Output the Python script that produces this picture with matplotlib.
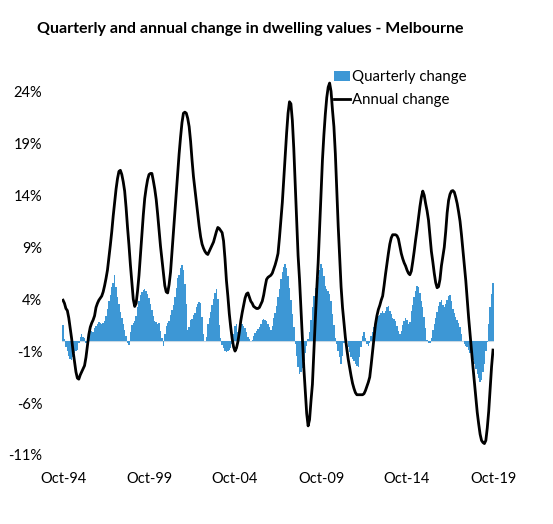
import matplotlib
matplotlib.use("Agg")
import matplotlib.pyplot as plt
import numpy as np

plt.rcParams['font.family'] = ['Lato', 'DejaVu Sans']

# Monthly, Oct-94 .. Oct-19 (rows: Oct-Dec 94, then calendar years, last row Jan-Oct 19)
quarterly = [
    1.5, 0.2, -0.6,
    -1.0, -1.5, -1.8, -1.9, -1.6, -1.2, -1.0, -0.9, -0.2, 0.4, 0.6, 0.4,
    0.3, -0.2, 0.4, 0.9, 1.1, 0.9, 0.8, 1.2, 1.4, 1.6, 1.8, 1.7,
    1.6, 1.7, 1.9, 2.4, 3.1, 3.8, 4.4, 5.2, 5.6, 6.3, 5.2, 4.2,
    3.5, 2.8, 2.2, 1.6, 1.0, 0.5, -0.2, -0.4, 0.8, 1.5, 1.7, 1.9,
    2.4, 3.2, 3.8, 4.4, 4.7, 4.9, 5.0, 4.8, 4.5, 4.1, 3.5, 3.0,
    2.4, 1.9, 1.8, 1.6, 1.7, 0.9, 0.3, -0.5, 0.6, 1.4, 1.7, 1.9,
    2.5, 3.0, 3.4, 4.2, 5.1, 6.0, 6.3, 7.0, 7.25, 6.8, 5.5, 3.5,
    1.0, 1.3, 2.0, 2.1, 2.5, 2.7, 3.2, 3.5, 3.7, 3.6, 2.3, 0.6,
    0.0, 0.4, 1.6, 2.2, 2.8, 3.4, 4.0, 4.6, 5.0, 4.0, 1.5, 0.3,
    -0.4, -0.7, -1.0, -1.1, -1.0, -0.9, -0.7, -0.3, 0.6, 1.4, 1.6, 0.8,
    0.8, 1.2, 1.6, 1.4, 1.2, 0.8, 0.4, 0.2, 0.0, 0.1, 0.5, 0.7,
    0.9, 1.1, 1.3, 1.6, 2.0, 2.1, 2.0, 1.9, 1.6, 1.3, 1.0, 1.4,
    2.2, 2.7, 3.3, 4.2, 5.0, 5.9, 6.6, 7.1, 7.4, 7.0, 6.2, 5.1,
    3.9, 2.6, 1.3, -0.3, -1.5, -2.5, -3.2, -3.0, -2.6, -2.0, -1.2, -0.5,
    0.2, 0.8, 2.0, 3.2, 4.3, 5.1, 5.6, 6.1, 6.8, 7.4, 7.0, 6.2,
    5.3, 5.0, 4.8, 4.5, 3.8, 2.6, 1.5, 0.3, -0.3, -1.0, -1.6, -2.2,
    -1.5, -0.2, 0.6, 0.0, -0.6, -1.1, -1.6, -1.8, -2.0, -2.2, -2.4, -2.5,
    -1.6, -0.6, 0.5, 0.8, 0.3, -0.3, -0.5, -0.2, 0.5, 0.8, 1.3, 1.8,
    2.2, 2.4, 2.5, 2.7, 2.9, 2.7, 2.9, 3.2, 3.3, 2.9, 2.6, 2.2,
    2.1, 1.9, 1.4, 0.9, 0.6, 0.9, 1.5, 1.9, 2.2, 2.0, 1.6, 1.8,
    2.9, 3.4, 4.2, 4.8, 5.3, 5.2, 4.6, 3.8, 3.2, 2.3, 1.2, 0.1,
    -0.2, -0.2, 0.3, 1.0, 1.6, 2.2, 2.8, 3.3, 3.7, 3.9, 3.4, 3.2,
    3.5, 3.9, 4.3, 4.4, 3.8, 3.1, 2.7, 2.3, 2.0, 1.7, 1.3, 0.6,
    0.0, -0.3, -0.5, -0.6, -0.9, -1.2, -1.6, -1.9, -2.2, -2.7, -3.2, -3.6,
    -4.0, -3.8, -3.0, -2.2, -1.0, -0.1, 1.6, 3.2, 4.5, 5.6,
]

annual = [
    3.9, 3.6, 3.1,
    2.9, 2.2, 1.2, 0.2, -1.0, -2.0, -3.0, -3.6, -3.7, -3.3, -3.0, -2.7,
    -2.4, -1.6, -0.5, 0.6, 1.3, 1.7, 2.0, 2.4, 3.2, 3.6, 3.9, 4.1,
    4.3, 4.7, 5.3, 6.0, 6.8, 8.0, 9.2, 10.5, 12.0, 13.3, 14.6, 15.6,
    16.3, 16.4, 16.0, 15.3, 14.4, 12.8, 10.9, 9.2, 7.3, 5.6, 4.0, 3.3,
    3.6, 4.8, 6.3, 8.2, 10.2, 12.1, 13.7, 14.7, 15.5, 16.0, 16.1, 16.1,
    15.4, 14.6, 13.6, 12.2, 10.6, 9.1, 7.8, 6.4, 5.3, 4.7, 4.6, 5.4,
    6.6, 8.5, 10.5, 12.3, 14.3, 16.2, 18.0, 19.6, 21.0, 21.9, 22.0, 21.9,
    21.4, 20.6, 19.2, 17.4, 15.8, 14.6, 13.4, 12.2, 11.0, 10.0, 9.3, 8.9,
    8.6, 8.4, 8.3, 8.6, 8.9, 9.2, 9.5, 10.0, 10.5, 10.9, 10.8, 10.6,
    10.4, 9.6, 7.9, 5.8, 4.3, 2.6, 1.3, 0.2, -0.6, -1.0, -0.7, -0.1,
    0.8, 1.9, 2.7, 3.4, 4.1, 4.5, 4.6, 4.2, 3.8, 3.6, 3.3, 3.2,
    3.1, 3.1, 3.2, 3.5, 3.8, 4.4, 5.2, 5.9, 6.1, 6.2, 6.3, 6.5,
    6.9, 7.3, 7.8, 8.4, 9.9, 11.6, 13.3, 15.5, 17.8, 20.0, 21.9, 23.0,
    22.8, 21.2, 18.5, 15.0, 11.5, 8.2, 5.9, 3.0, 0.2, -2.6, -4.8, -7.0,
    -8.2, -7.6, -5.8, -4.2, -1.0, 2.0, 4.9, 7.5, 10.8, 14.2, 17.4, 19.8,
    21.8, 23.4, 24.4, 24.8, 24.0, 22.2, 20.6, 18.0, 14.5, 11.0, 8.0, 5.2,
    3.2, 1.7, 0.3, -0.8, -1.8, -2.6, -3.4, -4.1, -4.6, -5.0, -5.2, -5.2,
    -5.2, -5.2, -5.2, -5.1, -4.8, -4.4, -4.0, -3.5, -2.3, -1.0, 0.3, 1.6,
    2.4, 3.0, 3.4, 3.9, 4.3, 5.3, 6.4, 7.4, 8.4, 9.3, 9.9, 10.2,
    10.2, 10.2, 10.1, 9.8, 9.1, 8.4, 7.9, 7.5, 7.2, 6.8, 6.5, 6.35,
    6.7, 7.6, 8.6, 9.7, 10.7, 11.8, 12.9, 13.8, 14.4, 14.0, 13.2, 12.5,
    11.6, 10.1, 8.6, 7.6, 6.5, 5.6, 5.1, 5.2, 5.9, 7.2, 8.1, 9.0,
    10.5, 12.3, 13.5, 14.1, 14.4, 14.45, 14.3, 13.8, 13.2, 12.4, 11.5, 10.2,
    8.7, 7.2, 5.8, 4.0, 2.2, 0.6, -0.9, -2.5, -4.0, -5.5, -6.9, -8.0,
    -9.0, -9.6, -9.8, -9.9, -9.6, -8.4, -6.8, -4.6, -2.5, -0.9,
]

tick_labels = ["Oct-94", "Oct-99", "Oct-04", "Oct-09", "Oct-14", "Oct-19"]
y_ticks = [-11, -6, -1, 4, 9, 14, 19, 24]

x = np.arange(len(quarterly))

fig = plt.figure(figsize=(5.53, 5.24), dpi=100)
ax = fig.add_axes([0.1114, 0.1317, 0.7827, 0.7435])

bars = ax.bar(x, quarterly, width=1.0, color='#3d97d5', linewidth=0, label="Quarterly change")
line, = ax.plot(x, annual, color='black', linewidth=2.0, label="Annual change")
ax.axhline(0, color='#c8d8e4', linewidth=0.8, zorder=0)

ax.set_xlim(-1, 301)
ax.set_ylim(-11, 26.5)
ax.set_yticks(y_ticks)
ax.set_yticklabels([f"{v}%" for v in y_ticks])
ax.set_xticks(np.arange(0, 301, 60))
ax.set_xticklabels(tick_labels)
ax.tick_params(axis='both', length=0, labelsize=10.5, colors='black')
ax.tick_params(axis='y', pad=14)
ax.tick_params(axis='x', pad=12)
for s in ax.spines.values():
    s.set_visible(False)

fig.legend([bars, line], ["Quarterly change", "Annual change"],
           loc='upper left', bbox_to_anchor=(0.593, 0.877), frameon=False,
           fontsize=10.8, handlelength=1.1, handletextpad=0.1,
           labelspacing=0.6, borderaxespad=0)

fig.text(250 / 553, 1 - 29 / 524, "Quarterly and annual change in dwelling values - Melbourne",
         ha='center', va='center', fontsize=11.5, fontweight='bold')

plt.savefig("out.png", dpi=100)
